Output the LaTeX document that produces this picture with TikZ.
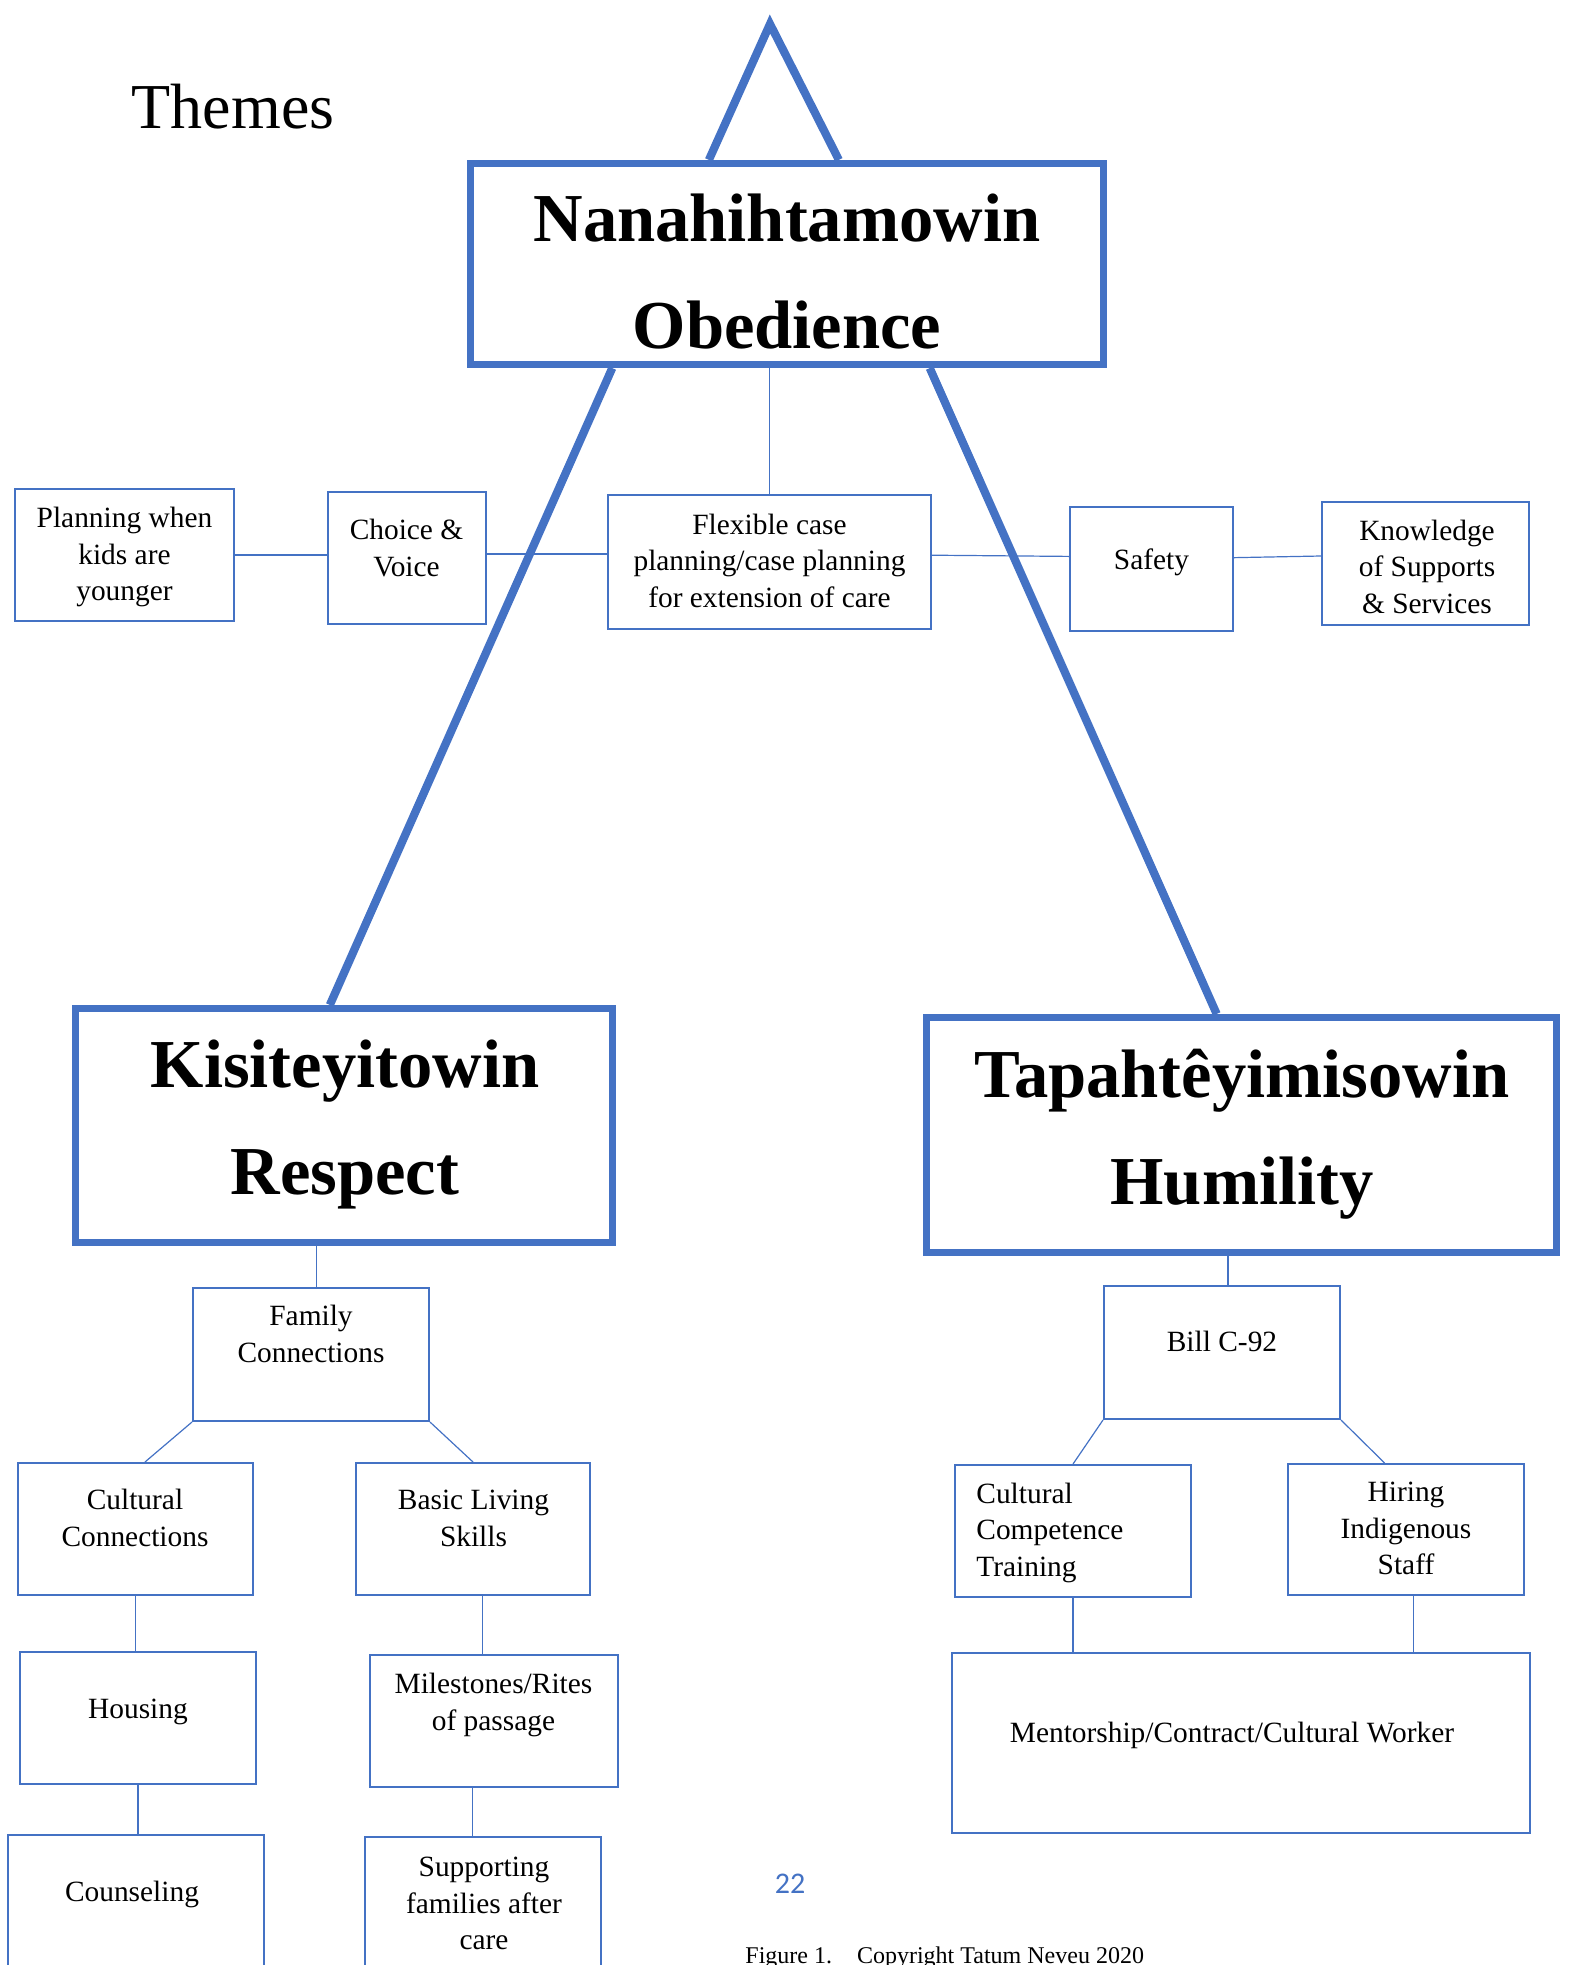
\documentclass[tikz,border=0pt]{standalone}
\usepackage{fontspec}
\setmainfont{Liberation Serif}
\newfontfamily\numfont{Carlito}
\usetikzlibrary{fit,calc,backgrounds}
\definecolor{bl}{HTML}{4472C4}
\begin{document}
\begin{tikzpicture}[x=0.5pt,y=-0.5pt,
  thinbox/.style={draw=bl, line width=1pt, fill=white, inner sep=0pt},
  bigbox/.style={draw=bl, line width=3.6pt, fill=white, inner sep=0pt},
  thickline/.style={draw=bl, line width=4.1pt},
  conn/.style={draw=bl, line width=0.6pt},
  txt/.style={align=center, inner sep=0pt, font=\fontsize{14.7}{18.3}\selectfont, execute at begin node=\strut, execute at end node=\strut},
  ttl/.style={align=center, inner sep=0pt, font=\bfseries\fontsize{34.3}{53.5}\selectfont, execute at begin node=\strut, execute at end node=\strut}]
\useasboundingbox (0,0) rectangle (1571,1965);
\clip (0,0) rectangle (1571,1965);

% title boxes
\node[bigbox, fit={(470.5,163.5) (1103.5,364.5)}] (top) {};
\node[bigbox, fit={(75.5,1008.5) (612.5,1242.5)}] (kisi) {};
\node[bigbox, fit={(926.5,1017.5) (1556.5,1252.5)}] (tapah) {};

% small boxes
\node[thinbox, fit={(15,489) (234,621)}] (plan) {};
\node[thinbox, fit={(328,492) (486,624)}] (choice) {};
\node[thinbox, fit={(608,495) (931,629)}] (flex) {};
\node[thinbox, fit={(1070,507) (1233,631)}] (safety) {};
\node[thinbox, fit={(1322,502) (1529,625)}] (know) {};
\node[thinbox, fit={(193,1288) (429,1421)}] (fam) {};
\node[thinbox, fit={(18,1463) (253,1595)}] (cult) {};
\node[thinbox, fit={(356,1463) (590,1595)}] (bls) {};
\node[thinbox, fit={(20,1652) (256,1784)}] (hous) {};
\node[thinbox, fit={(370,1655) (618,1787)}] (mil) {};
\node[thinbox, fit={(8,1835) (264,2000)}] (couns) {};
\node[thinbox, fit={(365,1837) (601,2000)}] (supp) {};
\node[thinbox, fit={(1104,1286) (1340,1419)}] (bill) {};
\node[thinbox, fit={(955,1465) (1191,1597)}] (cct) {};
\node[thinbox, fit={(1288,1464) (1524,1595)}] (hire) {};
\node[thinbox, fit={(952,1653) (1530,1833)}] (ment) {};

\coordinate (apex) at (770,24);

\begin{scope}[on background layer]
  % triangle on top
  \draw[thickline, line join=miter] ($(top.north west)!0.378!(top.north east)$) -- (apex) -- ($(top.north west)!0.581!(top.north east)$);
  % big diagonals
  \draw[thickline] ($(top.south west)!0.227!(top.south east)$) -- ($(kisi.north west)!0.474!(kisi.north east)$);
  \draw[thickline] ($(top.south west)!0.723!(top.south east)$) -- ($(tapah.north west)!0.461!(tapah.north east)$);
  % top row connectors
  \draw[conn] (flex.north) -- (flex.north |- top.south);
  \draw[conn] (plan.east) -- (plan.east -| choice.west);
  \draw[conn] ($(choice.north east)!0.47!(choice.south east)$) coordinate (cf) -- (cf -| flex.west);
  \draw[conn] ($(flex.north east)!0.45!(flex.south east)$) -- ($(safety.north west)!0.40!(safety.south west)$);
  \draw[conn] ($(safety.north east)!0.41!(safety.south east)$) -- ($(know.north west)!0.44!(know.south west)$);
  % left tree
  \draw[conn] ($(fam.north west)!0.523!(fam.north east)$) coordinate (kf) -- (kf |- kisi.south);
  \draw[conn] (fam.south west) -- ($(cult.north west)!0.54!(cult.north east)$);
  \draw[conn] (fam.south east) -- (bls.north);
  \draw[conn] (cult.south) -- (cult.south |- hous.north);
  \draw[conn] ($(bls.south west)!0.54!(bls.south east)$) coordinate (bm) -- (bm |- mil.north);
  \draw[conn] (hous.south) -- (hous.south |- couns.north);
  \draw[conn] ($(mil.south west)!0.415!(mil.south east)$) coordinate (ms) -- (ms |- supp.north);
  % right tree
  \draw[conn] ($(bill.north west)!0.525!(bill.north east)$) coordinate (tb) -- (tb |- tapah.south);
  \draw[conn] (bill.south west) -- (cct.north);
  \draw[conn] (bill.south east) -- ($(hire.north west)!0.41!(hire.north east)$);
  \draw[conn] (cct.south) -- (cct.south |- ment.north);
  \draw[conn] ($(hire.south west)!0.53!(hire.south east)$) coordinate (hm) -- (hm |- ment.north);
\end{scope}

% texts
\node[anchor=base, inner sep=0pt, font=\fontsize{32}{38}\selectfont] (themes) at (233,128) {Themes};
\node[ttl] (topt) at (787,287.6) {Nanahihtamowin\\Obedience};
\node[ttl] (kisit) at (345,1133.6) {Kisiteyitowin\\Respect};
\node[ttl] (tapaht) at (1242,1142.6) {Tapahtêyimisowin\\Humility};

\node[txt] (plant) at (124.5,559.5) {Planning when\\kids are\\younger};
\node[txt] (choicet) at (406.5,553.5) {Choice \&\\Voice};
\node[txt] (flext) at (769.5,566) {Flexible case\\planning/case planning\\for extension of care};
\node[txt] (safetyt) at (1151.5,562) {Safety};
\node[txt] (knowt) at (1427,572) {Knowledge\\of Supports\\\& Services};
\node[txt] (famt) at (311,1339) {Family\\Connections};
\node[txt] (cultt) at (135,1523.5) {Cultural\\Connections};
\node[txt] (blst) at (473.5,1523.5) {Basic Living\\Skills};
\node[txt] (houst) at (138,1711) {Housing};
\node[txt] (milt) at (493.5,1707) {Milestones/Rites\\of passage};
\node[txt] (counst) at (132,1894) {Counseling};
\node[txt] (suppt) at (484,1909) {Supporting\\families after\\care};
\node[txt] (billt) at (1222,1344) {Bill C-92};
\node[txt, align=left, anchor=west] (cctt) at (976,1535) {Cultural\\Competence\\Training};
\node[txt] (hiret) at (1406,1534) {Hiring\\Indigenous\\Staff};
\node[txt] (mentt) at (1232,1735) {Mentorship/Contract/Cultural Worker};

\node[anchor=base, inner sep=0pt, text=bl, font=\numfont\fontsize{15}{18}\selectfont] (pagenum) at (790,1893) {22};
\node[anchor=base west, inner sep=0pt, font=\fontsize{12}{14}\selectfont] (caption) at (745,1963) {Figure 1.\hspace{12.5pt}Copyright Tatum Neveu 2020};
\end{tikzpicture}
\end{document}
